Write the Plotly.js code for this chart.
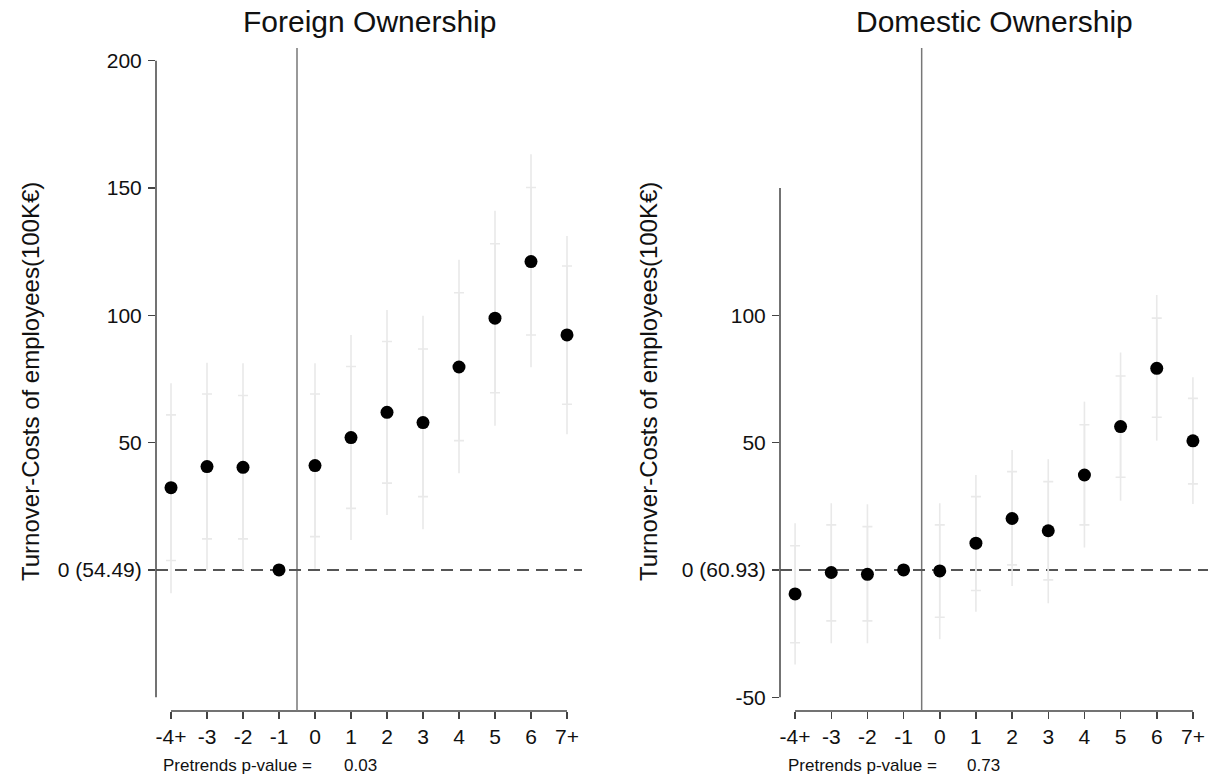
<!DOCTYPE html>
<html>
<head>
<meta charset="utf-8">
<script src="https://cdn.plot.ly/plotly-3.0.1.min.js"></script>
<style>html,body{margin:0;padding:0;background:#fff;}#chart{width:1219px;height:778px;}</style>
</head>
<body>
<div id="chart"></div>
<script>
// Event time (years relative to ownership change)
const eventTime = [-4, -3, -2, -1, 0, 1, 2, 3, 4, 5, 6, 7];
const eventLabels = ["-4+", "-3", "-2", "-1", "0", "1", "2", "3", "4", "5", "6", "7+"];

// Foreign ownership
const estForeign  = [32.3, 40.6, 40.3, 0, 41.0, 52.0, 61.9, 57.9, 79.7, 98.9, 121.1, 92.3];
const hi95Foreign = [73.3, 81.4, 81.2, null, 81.2, 92.3, 102.1, 99.8, 121.8, 141.1, 163.3, 131.2];
const hi90Foreign = [60.9, 69.1, 68.5, null, 69.1, 79.9, 89.7, 86.8, 108.9, 128.1, 150.2, 119.4];
const lo90Foreign = [3.7, 12.2, 12.2, null, 13.1, 24.2, 34.1, 28.8, 50.8, 69.6, 92.3, 65.1];
const lo95Foreign = [-9.2, 0.0, 0.0, null, 0.5, 11.8, 21.6, 16.0, 38.0, 56.6, 79.6, 53.3];

// Domestic ownership
const estDomestic  = [-9.4, -1.0, -1.7, 0, -0.4, 10.5, 20.2, 15.4, 37.3, 56.3, 79.2, 50.7];
const hi95Domestic = [18.3, 26.2, 25.8, null, 26.2, 37.3, 47.1, 43.5, 66.1, 85.4, 108.0, 75.7];
const hi90Domestic = [9.5, 17.7, 17.0, null, 17.7, 28.8, 38.6, 34.7, 57.0, 76.2, 98.9, 67.4];
const lo90Domestic = [-28.6, -20.0, -20.0, null, -18.6, -8.1, 2.0, -3.9, 17.7, 36.4, 60.0, 33.8];
const lo95Domestic = [-37.1, -28.8, -28.8, null, -27.2, -16.4, -6.3, -13.1, 8.8, 27.2, 50.8, 25.9];

// Y tick labels
const yTicksForeign = [0, 50, 100, 150, 200];
const yTickTextForeign = ["0 (54.49)", "50", "100", "150", "200"];
const yTicksDomestic = [-50, 0, 50, 100];
const yTickTextDomestic = ["-50", "0 (60.93)", "50", "100"];

const titles = ["Foreign Ownership", "Domestic Ownership"];
const yTitle = "Turnover-Costs of employees(100K€)";
const pLabel = "Pretrends p-value =";
const pValues = ["0.03", "0.73"];

const FONT = '"Liberation Sans", Arial, Helvetica, sans-serif';
const BAR = '#e9e9e9';

function diffUp(hi, est){ return hi.map((h,i)=> h===null ? null : h - est[i]); }
function diffDn(lo, est){ return lo.map((l,i)=> l===null ? null : est[i] - l); }

function panelTraces(est, hi95, hi90, lo90, lo95, xa, ya){
  return [
    {x: eventTime, y: est, xaxis: xa, yaxis: ya, type: 'scatter', mode: 'markers',
     marker: {color: 'rgba(0,0,0,0)', size: 1},
     error_y: {type: 'data', symmetric: false, array: diffUp(hi95, est), arrayminus: diffDn(lo95, est),
               color: BAR, thickness: 1.6, width: 0},
     hoverinfo: 'skip', showlegend: false},
    {x: eventTime, y: est, xaxis: xa, yaxis: ya, type: 'scatter', mode: 'markers',
     marker: {color: 'rgba(0,0,0,0)', size: 1},
     error_y: {type: 'data', symmetric: false, array: diffUp(hi90, est), arrayminus: diffDn(lo90, est),
               color: BAR, thickness: 1.6, width: 5},
     hoverinfo: 'skip', showlegend: false},
    {x: eventTime, y: est, xaxis: xa, yaxis: ya, type: 'scatter', mode: 'markers',
     marker: {color: '#000', size: 13}, showlegend: false}
  ];
}

const data = [
  ...panelTraces(estForeign, hi95Foreign, hi90Foreign, lo90Foreign, lo95Foreign, 'x', 'y'),
  ...panelTraces(estDomestic, hi95Domestic, hi90Domestic, lo90Domestic, lo95Domestic, 'x2', 'y2')
];

const W = 1219, H = 778;
const yDom = [(H - 711) / H, (H - 48) / H];
const xRange = [-4.417, 7.417];
const yRange = [-55.4, 205.0];

function xAxis(domain, anchor){
  return {domain: domain, anchor: anchor, range: xRange, tickmode: 'array', tickvals: eventTime, ticktext: eventLabels,
    showline: false, showgrid: false, zeroline: false, ticks: 'outside', ticklen: 7, tickwidth: 1.5, tickcolor: '#444',
    tickfont: {family: FONT, size: 21, color: '#111'}, automargin: false, fixedrange: true};
}
function yAxis(anchor, vals, text){
  return {domain: yDom, anchor: anchor, range: yRange, tickmode: 'array', tickvals: vals, ticktext: text,
    showline: false, showgrid: false, zeroline: false, ticks: 'outside', ticklen: 7, tickwidth: 1.5, tickcolor: '#444',
    ticklabelstandoff: 2,
    tickfont: {family: FONT, size: 21, color: '#111'}, automargin: false, fixedrange: true};
}

function panelShapes(xa, ya, yTop){
  return [
    {type: 'line', layer: 'below', xref: xa + ' domain', yref: ya, x0: 0, x1: 0, y0: -50, y1: yTop, line: {color: '#444', width: 1.5}},
    {type: 'line', layer: 'below', xref: xa, yref: ya + ' domain', x0: -4, x1: 7, y0: 0, y1: 0, line: {color: '#444', width: 1.5}},
    {type: 'line', layer: 'below', xref: xa, yref: ya + ' domain', x0: -0.5, x1: -0.5, y0: 0, y1: 1, line: {color: '#777', width: 1.5}},
    {type: 'line', layer: 'below', xref: xa + ' domain', yref: ya, x0: 0, x1: 1, y0: 0, y1: 0, line: {color: '#555', width: 2, dash: '12px,7px'}}
  ];
}

function ann(text, x, y, size, opts){
  return Object.assign({text: text, xref: 'paper', yref: 'paper', x: x / W, y: 1 - y / H, showarrow: false,
    font: {family: FONT, size: size, color: '#111'}, xanchor: 'center', yanchor: 'middle'}, opts || {});
}

const layout = {
  width: W, height: H,
  margin: {l: 0, r: 0, t: 0, b: 0, pad: 0},
  paper_bgcolor: '#fff', plot_bgcolor: '#fff',
  showlegend: false,
  xaxis: xAxis([156 / W, 582 / W], 'y'),
  yaxis: yAxis('x', yTicksForeign, yTickTextForeign),
  xaxis2: xAxis([780 / W, 1208 / W], 'y2'),
  yaxis2: yAxis('x2', yTicksDomestic, yTickTextDomestic),
  shapes: [...panelShapes('x', 'y', 200), ...panelShapes('x2', 'y2', 150)],
  annotations: [
    ann(titles[0], 369, 22, 30),
    ann(titles[1], 994, 22, 30),
    ann(yTitle, 30, 382, 24, {textangle: -90}),
    ann(yTitle, 648, 382, 24, {textangle: -90}),
    ann(pLabel, 161, 765, 17, {xanchor: 'left'}),
    ann(pValues[0], 342, 765, 17, {xanchor: 'left'}),
    ann(pLabel, 786, 765, 17, {xanchor: 'left'}),
    ann(pValues[1], 965, 765, 17, {xanchor: 'left'})
  ]
};

Plotly.newPlot('chart', data, layout, {staticPlot: true, displayModeBar: false});
</script>
</body>
</html>
